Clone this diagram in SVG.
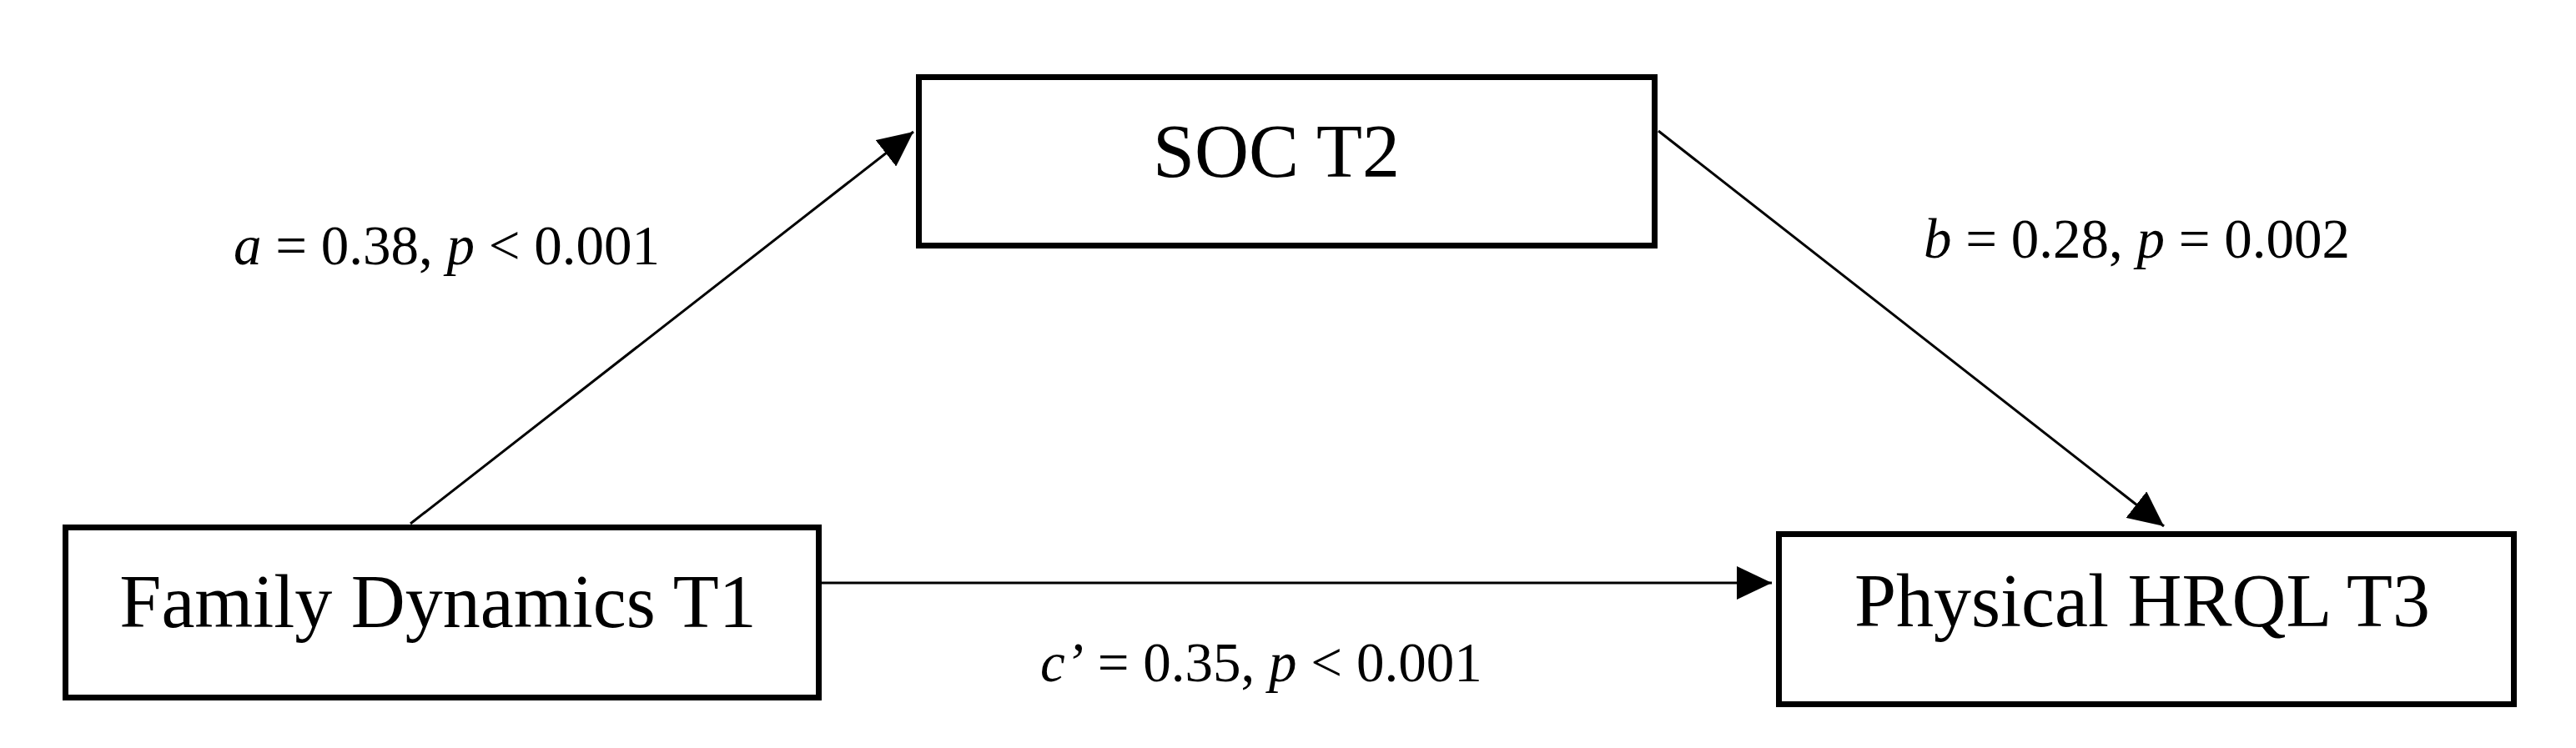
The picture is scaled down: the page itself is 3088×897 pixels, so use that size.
<svg xmlns="http://www.w3.org/2000/svg" width="3088" height="897" viewBox="0 0 3088 897">
<style>
.box{fill:#fff;stroke:#000;stroke-width:7}
.node{font-family:"Liberation Serif","Times New Roman",serif;font-size:90px;fill:#000;text-anchor:middle}
.lbl{font-family:"Liberation Serif","Times New Roman",serif;font-size:67px;fill:#000}
.edge{stroke:#000;stroke-width:3;fill:none;marker-end:url(#ah)}
</style>
<defs>
<marker id="ah" markerUnits="userSpaceOnUse" markerWidth="42" markerHeight="40" refX="42" refY="20" orient="auto">
<path d="M0,0 L42,20 L0,40 Z" fill="#000"/>
</marker>
</defs>
<rect width="3088" height="897" fill="#fff"/>
<g id="connectors">
<line class="edge" x1="492" y1="628" x2="1095" y2="158"/>
<line class="edge" x1="1988" y1="157" x2="2594" y2="631"/>
<line class="edge" x1="985" y1="699" x2="2124" y2="699"/>
<text class="lbl" x="280" y="317"><tspan font-style="italic">a</tspan> = 0.38, <tspan font-style="italic">p</tspan> &lt; 0.001</text>
<text class="lbl" x="2306" y="309"><tspan font-style="italic">b</tspan> = 0.28, <tspan font-style="italic">p</tspan> = 0.002</text>
<text class="lbl" x="1247" y="817"><tspan font-style="italic">c’</tspan> = 0.35, <tspan font-style="italic">p</tspan> &lt; 0.001</text>
</g>
<g id="soc">
<rect class="box" x="1101.5" y="92.5" width="882" height="202"/>
<text class="node" x="1530" y="212">SOC T2</text>
</g>
<g id="family">
<rect class="box" x="78.5" y="632.5" width="903" height="204"/>
<text class="node" x="525" y="752">Family Dynamics T1</text>
</g>
<g id="physical">
<rect class="box" x="2132.5" y="640.5" width="881" height="204"/>
<text class="node" x="2568" y="751">Physical HRQL T3</text>
</g>
</svg>
